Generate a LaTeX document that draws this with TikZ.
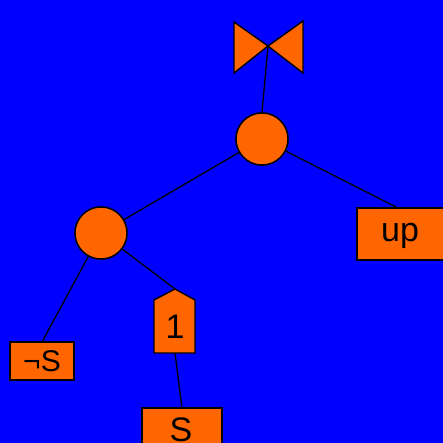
\documentclass[tikz,border=0pt]{standalone}
\usepackage{fontspec}
\setmainfont{Liberation Sans}
\definecolor{bg}{RGB}{0,0,255}
\definecolor{org}{RGB}{255,102,0}
\begin{document}
\begin{tikzpicture}[x=1pt,y=-1pt,
  shp/.style={fill=org,draw=black,line width=1.4pt},
  edge/.style={draw=black,line width=1.3pt},
  lbl/.style={font=\fontsize{34}{34}\selectfont,inner sep=0pt}]
\fill[bg] (0,0) rectangle (443,443);
\useasboundingbox (0,0) rectangle (443,443);
% bowtie
\coordinate (tie) at (268,46);
\draw[shp] (234,22) -- (tie) -- (234,73) -- cycle;
\draw[shp] (303,21) -- (tie) -- (303,73) -- cycle;
% circles
\node[shp,circle,minimum size=52pt,inner sep=0pt] (top) at (262,139) {};
\node[shp,circle,minimum size=52pt,inner sep=0pt] (left) at (101,233) {};
% boxes
\begin{scope}
\clip (0,0) rectangle (443,443);
\draw[shp] (357,208) rectangle (450,260);
\node[lbl] (up) at (400,236) {up};
\coordinate (upt) at (398,208);
\draw[shp] (142,408) rectangle (222,450);
\node[lbl] (s) at (181,430) {S};
\coordinate (st) at (182,408);
\end{scope}
\draw[shp] (10,342) rectangle (74,380);
\node[lbl,font=\fontsize{30}{30}\selectfont] (ns) at (42,361) {¬S};
\coordinate (nst) at (42,342);
% pentagon "1"
\draw[shp] (154,353) -- (154,300) -- (175,289) -- (195,300) -- (195,353) -- cycle;
\coordinate (onet) at (175,289);
\coordinate (oneb) at (175,353);
\node[lbl] (one) at (175,327) {1};
% edges
\draw[edge] (tie) -- (top.north);
\draw[edge] (top) -- (upt);
\draw[edge] (top) -- (left);
\draw[edge] (left) -- (nst);
\draw[edge] (left) -- (onet);
\draw[edge] (oneb) -- (st);
% redraw shapes over edges
\node[shp,circle,minimum size=52pt,inner sep=0pt] at (262,139) {};
\node[shp,circle,minimum size=52pt,inner sep=0pt] at (101,233) {};
\end{tikzpicture}
\end{document}
